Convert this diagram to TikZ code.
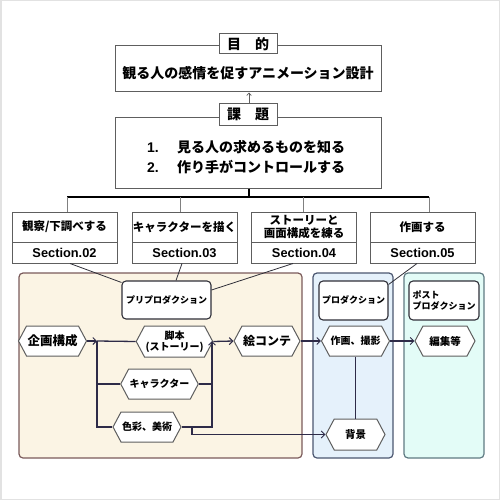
\documentclass[tikz,border=0pt]{standalone}
\usepackage{fontspec}
\setmainfont{Noto Sans CJK JP}
\newfontfamily\latinsans{Liberation Sans}
\usetikzlibrary{shapes.symbols,arrows.meta,calc}
\definecolor{frame}{HTML}{E2E2E2}
\definecolor{boxgray}{HTML}{5E5E5E}
\definecolor{navy}{HTML}{2E2B48}
\definecolor{prefill}{HTML}{FBF4E4}
\definecolor{predraw}{HTML}{7A5A5A}
\definecolor{prodfill}{HTML}{E5F1FB}
\definecolor{proddraw}{HTML}{4B5670}
\definecolor{postfill}{HTML}{E3FCF7}
\definecolor{postdraw}{HTML}{5F7A82}
\definecolor{labdraw}{HTML}{2F2F38}
\tikzset{
  bigbox/.style={draw=boxgray, line width=1pt, fill=white, minimum width=266pt, inner sep=0pt},
  tagbox/.style={draw=boxgray, line width=1pt, fill=white, minimum width=58pt, inner sep=0pt, font=\fontsize{14}{16}\selectfont\bfseries},
  sectop/.style={draw=boxgray, line width=1pt, fill=white, minimum width=105pt, minimum height=30pt, inner sep=0pt, align=center, font=\fontsize{11.5}{13.5}\selectfont\bfseries},
  secbot/.style={draw=boxgray, line width=1pt, fill=white, minimum width=105pt, minimum height=21pt, inner sep=0pt, font=\latinsans\fontsize{12.8}{14}\selectfont\bfseries},
  phase/.style={line width=1.2pt, rounded corners=4pt, minimum height=185pt, inner sep=0pt},
  phaselab/.style={draw=labdraw, line width=1.1pt, fill=white, rounded corners=4pt, inner sep=0pt, font=\fontsize{9}{11}\selectfont\bfseries},
  hexa/.style={signal, signal to=east and west, signal pointer angle=124, draw=boxgray, line width=1pt, fill=white, minimum height=30pt, inner sep=1pt, align=center, font=\fontsize{10}{11.5}\selectfont\bfseries},
  flow/.style={draw=navy, line width=1.3pt},
  flowarr/.style={flow, -{Straight Barb[length=3.5pt,width=7pt,line width=1pt]}},
  secline/.style={draw=labdraw, line width=0.8pt},
}
\begin{document}
\begin{tikzpicture}[x=1pt,y=-1pt]
\useasboundingbox (0,0) rectangle (500,500);
\draw[frame, line width=1.5pt] (0.75,0.75) rectangle (499.25,499.25);

% goal
\node[bigbox, minimum height=46pt] (goalbox) at (248,69) {};
\node[font=\fontsize{14}{16}\selectfont\bfseries, inner sep=0pt] (goaltext) at (248,73.5) {観る人の感情を促すアニメーション設計};
\node[tagbox, minimum height=20pt] (goaltag) at (248,44) {目　的};

% task
\node[bigbox, minimum height=70pt] (taskbox) at (248,153) {};
\node[font=\fontsize{14}{20}\selectfont\bfseries, inner sep=0pt, align=left, anchor=west] (tasktext) at (147,157) {{\latinsans 1.}\hspace{1.3em}見る人の求めるものを知る\\{\latinsans 2.}\hspace{1.3em}作り手がコントロールする};
\node[tagbox, minimum height=21pt] (tasktag) at (248,114.5) {課　題};
\draw[boxgray, line width=0.7pt, -{Straight Barb[length=2.5pt,width=4.5pt,line width=0.7pt]}] (tasktag.north -| 249,0) -- (goalbox.south -| 249,0);

% sections
\node[sectop] (s1) at (64.5,227) {観察/下調べする};
\node[secbot] (s1b) at (64.5,252.5) {Section.02};
\node[sectop] (s2) at (184.5,227) {キャラクターを描く};
\node[secbot] (s2b) at (184.5,252.5) {Section.03};
\node[sectop, font=\fontsize{11.5}{13}\selectfont\bfseries] (s3) at (304,227) {ストーリーと\\画面構成を練る};
\node[secbot] (s3b) at (304,252.5) {Section.04};
\node[sectop] (s4) at (422.5,227) {作画する};
\node[secbot] (s4b) at (422.5,252.5) {Section.05};

% bus
\coordinate (bustop) at (249,197);
\coordinate (busL) at (67,197);
\coordinate (busR) at (429,197);
\coordinate (bus2) at (180,197);
\coordinate (bus3) at (303,197);
\draw[black, line width=1.5pt] (taskbox.south -| bustop) -- (bustop);
\draw[black, line width=1.6pt] (busL) -- (busR);
\draw[gray, line width=0.9pt] (busL) -- (busL |- s1.north);
\draw[gray, line width=0.9pt] (bus2) -- (bus2 |- s2.north);
\draw[gray, line width=0.9pt] (bus3) -- (bus3 |- s3.north);
\draw[gray, line width=0.9pt] (busR) -- (busR |- s4.north);

% phases
\node[phase, draw=predraw, fill=prefill, minimum width=283pt] (pre) at (160.5,365.5) {};
\node[phase, draw=proddraw, fill=prodfill, minimum width=80pt] (prod) at (353,365.5) {};
\node[phase, draw=postdraw, fill=postfill, minimum width=80pt] (post) at (444,365.5) {};

\node[phaselab, minimum width=89pt, minimum height=38pt] (preL) at (166.5,300) {プリプロダクション};
\node[phaselab, minimum width=69pt, minimum height=39pt] (prodL) at (353.5,300.5) {プロダクション};
\node[phaselab, minimum width=70pt, minimum height=39pt, align=left] (postL) at (444,300.5) {ポスト\\プロダクション};

% section to phase lines
\draw[secline] ($(s1b.south)+(5.5,0)$) -- ($(preL.north west)+(0,2)$);
\draw[secline] ($(s2b.south)+(-2.5,0)$) -- ($(preL.north)+(9.5,0)$);
\draw[secline] ($(s3b.south)+(-11,0)$) -- ($(preL.east)+(0,-10)$);
\draw[secline] ($(s4b.south)+(-5.5,0)$) -- ($(prodL.north east)+(0,4)$);

% hexagons
\node[hexa, minimum width=60pt, font=\fontsize{12.5}{14}\selectfont\bfseries] (kikaku) at (52.5,341) {企画構成};
\node[hexa, minimum width=65pt, minimum height=31pt] (kyaku) at (174.5,341.5) {脚本\\(ストーリー)};
\node[hexa, minimum width=65pt] (chara) at (159.5,384) {キャラクター};
\node[hexa, minimum width=60pt] (shiki) at (147,427) {色彩、美術};
\node[hexa, minimum width=60pt, font=\fontsize{12}{14}\selectfont\bfseries] (ekonte) at (267,341) {絵コンテ};
\node[hexa, minimum width=59pt] (sakuga) at (355.5,341) {作画、撮影};
\node[hexa, minimum width=60pt, font=\fontsize{10.5}{12}\selectfont\bfseries] (henshu) at (445,341) {編集等};
\node[hexa, minimum width=59pt, minimum height=31pt, font=\fontsize{10.5}{12}\selectfont\bfseries] (haikei) at (355.5,434.5) {背景};

% flow
\coordinate (j1) at (97,341);
\coordinate (j2) at (212,341);
\coordinate (b1) at (192,427);
\draw[flowarr] (kikaku.east) -- (j1);
\draw[flow] (j1) -- (kyaku.west);
\draw[flow] (j1) |- (shiki.west);
\draw[flow] (j1 |- chara.west) -- (chara.west);
\draw[flowarr] (shiki.east) -| (j2);
\draw[flow] (chara.east) -- (j2 |- chara.east);
\draw[flowarr] (kyaku.east) -- (ekonte.west);
\draw[flowarr] (b1) |- (haikei.west);
\draw[flowarr] (ekonte.east) -- (sakuga.west);
\draw[flowarr] (sakuga.east) -- (henshu.west);
\draw[flow] (sakuga.south) -- (haikei.north);
\end{tikzpicture}
\end{document}
